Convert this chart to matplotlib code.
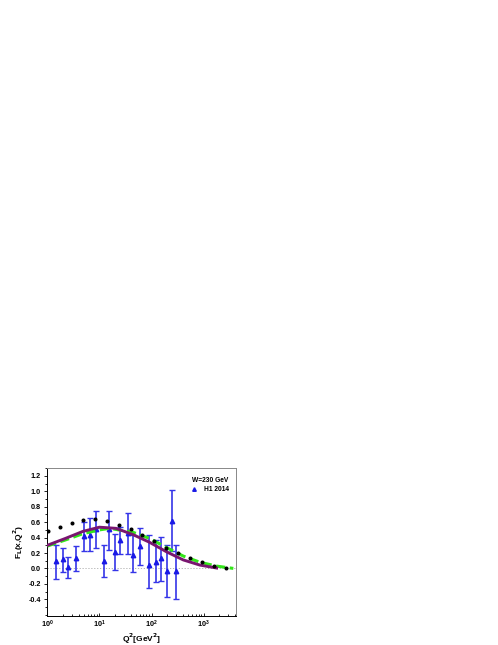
import numpy as np
import matplotlib
matplotlib.use("Agg")
import matplotlib.pyplot as plt
from matplotlib.ticker import MultipleLocator, LogLocator, NullFormatter

plt.rcParams['font.family'] = ['Liberation Sans', 'DejaVu Sans']
plt.rcParams['font.weight'] = 'bold'
plt.rcParams['mathtext.default'] = 'bf'

# H1 2014 data
h1_q2 = [1.5, 2.0, 2.5, 3.5, 5.0, 6.5, 8.5, 12, 15, 20, 25, 35, 45, 60, 90, 120, 150, 200, 250, 300]
h1_fl = [0.095, 0.12, 0.02, 0.14, 0.42, 0.44, 0.51, 0.095, 0.51, 0.215, 0.37, 0.46, 0.18, 0.29,
         0.05, 0.08, 0.14, -0.035, 0.615, -0.035]
h1_up = [0.31, 0.27, 0.15, 0.29, 0.60, 0.65, 0.74, 0.30, 0.74, 0.45, 0.54, 0.72, 0.43, 0.52,
         0.43, 0.37, 0.41, 0.30, 1.02, 0.31]
h1_lo = [-0.14, -0.05, -0.13, -0.03, 0.22, 0.22, 0.26, -0.11, 0.24, -0.02, 0.19, 0.19, -0.05, 0.05,
         -0.26, -0.18, -0.16, -0.37, 0.22, -0.40]

# model curves (log10 Q2, F_L)
purple_lq = [0.0, 0.35, 0.68, 1.0, 1.32, 1.64, 1.96, 2.29, 2.61, 2.93, 3.25]
purple_fl = [0.30, 0.39, 0.48, 0.535, 0.52, 0.44, 0.34, 0.215, 0.11, 0.043, 0.005]

green_lq = [0.0, 0.35, 0.68, 1.0, 1.19, 1.64, 1.96, 2.29, 2.61, 2.93, 3.25, 3.57]
green_fl = [0.29, 0.37, 0.45, 0.50, 0.52, 0.47, 0.39, 0.27, 0.16, 0.08, 0.03, 0.0]

black_lq = [0.02, 0.24, 0.47, 0.69, 0.92, 1.14, 1.37, 1.60, 1.82, 2.05, 2.28, 2.51, 2.74, 2.97, 3.19, 3.42]
black_fl = [0.48, 0.54, 0.595, 0.63, 0.64, 0.62, 0.57, 0.51, 0.43, 0.35, 0.27, 0.20, 0.13, 0.08, 0.035, 0.01]

fig = plt.figure(figsize=(4.98, 6.45), dpi=100)
ax = fig.add_axes([0.095, 0.0454, 0.378, 0.2286])

ax.axhline(0, color='#aaaaaa', lw=0.6, ls=(0, (1.5, 2)), zorder=1)

h1_fl = np.array(h1_fl)
yerr = [h1_fl - np.array(h1_lo), np.array(h1_up) - h1_fl]
ax.errorbar(h1_q2, h1_fl, yerr=yerr, fmt='none', ecolor='#3535e8',
            elinewidth=1.2, capsize=2.2, capthick=1.0, zorder=3)
ax.plot(h1_q2, h1_fl, '^', color='#1a1ae6', ms=3.2, zorder=3.5, label='H1 2014')

ax.plot(10 ** np.array(green_lq), green_fl, color='#33e61a', lw=2.2, ls=(0, (3, 1.5)), zorder=4)
ax.plot(10 ** np.array(purple_lq), purple_fl, color='#7a1670', lw=2.1, zorder=5)
ax.plot(10 ** np.array(black_lq), black_fl, 'o', color='black', ms=1.9, zorder=6)

ax.set_xscale('log')
ax.set_xlim(1, 4100)
ax.set_ylim(-0.614, 1.3)
ax.yaxis.set_minor_locator(MultipleLocator(0.1))
ax.xaxis.set_major_locator(LogLocator(base=10, numticks=10))
ax.xaxis.set_minor_locator(LogLocator(base=10, subs=np.arange(2, 10), numticks=10))
ax.xaxis.set_minor_formatter(NullFormatter())
ax.tick_params(which='both', labelsize=5.2, width=0.6, pad=2)
ax.tick_params(axis='x', which='both', direction='in')
ax.tick_params(axis='y', which='both', direction='out')
ax.tick_params(which='major', length=2.5)
ax.tick_params(which='minor', length=1.5)
yt = np.arange(-0.4, 1.21, 0.2)
ax.set_yticks(yt)
ax.set_yticklabels(['%.1f' % v for v in yt])
for s in ax.spines.values():
    s.set_linewidth(0.7)
ax.spines['top'].set_color('#888888')
ax.spines['right'].set_color('#888888')

ax.set_xlabel(r'Q$^2$[GeV$^2$]', fontsize=6, fontweight='bold', labelpad=1)
ax.set_ylabel(r'F$_L$(x,Q$^2$)', fontsize=6, fontweight='bold', labelpad=2)

ax.text(0.77, 0.91, 'W=230 GeV', transform=ax.transAxes, fontsize=4.8, fontweight='bold')
leg = ax.legend(loc='upper right', bbox_to_anchor=(0.99, 0.91), frameon=False, fontsize=4.8,
                handlelength=1.5, handletextpad=0.8, borderpad=0.2, markerscale=0.8)
for t in leg.get_texts():
    t.set_fontweight('bold')

fig.savefig('out.png', dpi=100)
